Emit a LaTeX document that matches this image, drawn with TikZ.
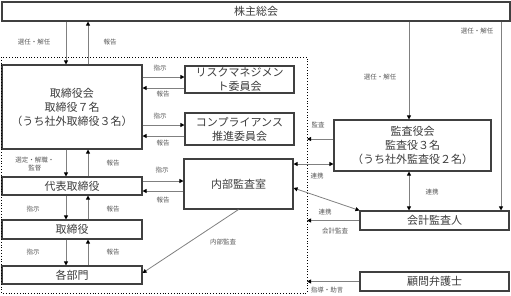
\documentclass[tikz,border=0pt]{standalone}
\usepackage{fontspec}
\setmainfont{Noto Sans CJK JP}
\usepackage{xcolor}
\usepackage{tikz}
\usetikzlibrary{arrows.meta,positioning,calc}
\definecolor{BoxLine}{RGB}{ 64, 64, 64}
\definecolor{BoxText}{RGB}{ 60, 60, 60}
\definecolor{ArrLine}{RGB}{128,128,128}
\definecolor{LblText}{RGB}{ 90, 90, 90}

\begin{document}
\begin{tikzpicture}[x=1pt,y=-1pt,
      box/.style={rectangle,draw=BoxLine,fill=white,line width=1.1pt,
                  inner sep=0pt,align=center,text=BoxText,
                  font=\fontsize{11}{14}\selectfont},
      arr/.style={-{Triangle[length=4pt,width=4pt,black]},line width=0.8pt,ArrLine},
      dbl/.style={{Triangle[length=4pt,width=4pt,black]}-{Triangle[length=4pt,width=4pt,black]},
                  line width=0.8pt,ArrLine},
      lbl/.style={font=\fontsize{6.5}{8}\selectfont,text=LblText,align=center,inner sep=0pt}]
    \useasboundingbox (0,0) rectangle (511,295);
    % boxes
    \node[box,minimum width=508pt,minimum height=19pt](soukai) at (256,11.5){株主総会};
    \node[box,minimum width=140pt,minimum height=84pt](torikai) at (72,107)
         {取締役会\\取締役７名\\（うち社外取締役３名）};
    \node[box,minimum width=109pt,minimum height=27pt](risk) at (239.5,79.5){リスクマネジメン\\ト委員会};
    \node[box,minimum width=109pt,minimum height=32pt](comp) at (239.5,129){コンプライアンス\\推進委員会};
    \node[box,minimum width=140pt,minimum height=18pt](daihyo) at (72,186){代表取締役};
    \node[box,minimum width=140pt,minimum height=19pt](torishimari) at (72,229.5){取締役};
    \node[box,minimum width=140pt,minimum height=18pt](kakubu) at (72,275){各部門};
    \node[box,minimum width=109pt,minimum height=50pt](naibu) at (238.5,184){内部監査室};
    \node[box,minimum width=157pt,minimum height=51pt](kansa) at (412.5,145.5)
         {監査役会\\監査役３名\\（うち社外監査役２名）};
    \node[box,minimum width=149pt,minimum height=19pt](kaikei) at (434.5,220.5){会計監査人};
    \node[box,minimum width=149pt,minimum height=19pt](komon) at (434.5,281.5){顧問弁護士};
    % dotted frame of the company
    \coordinate (frNW) at (1,57);
    \coordinate (frSE) at (307,293);
    \draw[dotted,line width=0.8pt] (frNW) rectangle (frSE);
    % columns
    \coordinate (cDown) at (66,0);
    \coordinate (cUp) at (88,0);
    \coordinate (cKansa) at (409,0);
    \coordinate (cKaikei) at (501,0);
    % connectors
    \draw[arr](soukai.south -| cDown)--(torikai.north -| cDown);
    \draw[arr](torikai.north -| cUp)--(soukai.south -| cUp);
    \draw[arr]($(torikai.east|-risk.west)+(0,-2.5)$)--($(risk.west)+(0,-2.5)$);
    \draw[arr]($(risk.west)+(0,8.5)$)--($(torikai.east|-risk.west)+(0,8.5)$);
    \draw[arr]($(torikai.east|-comp.west)+(0,-4)$)--($(comp.west)+(0,-4)$);
    \draw[arr]($(comp.west)+(0,7)$)--($(torikai.east|-comp.west)+(0,7)$);
    \draw[arr](torikai.south -| cDown)--(daihyo.north -| cDown);
    \draw[arr](daihyo.north -| cUp)--(torikai.south -| cUp);
    \draw[arr]($(daihyo.east)+(0,-5)$)--($(naibu.west|-daihyo.east)+(0,-5)$);
    \draw[arr]($(naibu.west|-daihyo.east)+(0,5)$)--($(daihyo.east)+(0,5)$);
    \draw[arr](daihyo.south -| cDown)--(torishimari.north -| cDown);
    \draw[arr](torishimari.north -| cUp)--(daihyo.south -| cUp);
    \draw[arr](torishimari.south -| cDown)--(kakubu.north -| cDown);
    \draw[arr](kakubu.north -| cUp)--(torishimari.south -| cUp);
    \draw[arr](naibu.south)--($(kakubu.east)+(0,-2)$);
    \draw[arr](soukai.south -| cKansa)--(kansa.north -| cKansa);
    \draw[arr](soukai.south -| cKaikei)--(kaikei.north -| cKaikei);
    \draw[arr]($(kansa.west)+(0,-6.5)$)--($(frSE|-kansa.west)+(0,-6.5)$);
    \draw[dbl]($(naibu.east|-kansa.west)+(0,18.5)$)--($(kansa.west)+(0,18.5)$);
    \draw[dbl]($(naibu.east)+(0,4)$)--(kaikei.north west);
    \draw[dbl](kansa.south -| cKansa)--(kaikei.north -| cKansa);
    \draw[arr](kaikei.west)--(frSE|-kaikei.west);
    \draw[arr](komon.west)--(frSE|-komon.west);
    % labels
    \node[lbl](lSennin1) at (34,42){選任・解任};
    \node[lbl](lHoukoku1) at (110,42){報告};
    \node[lbl](lShiji1) at (160,68){指示};
    \node[lbl](lHoukoku2) at (163,94){報告};
    \node[lbl](lShiji2) at (160,116){指示};
    \node[lbl](lHoukoku3) at (163,143){報告};
    \node[lbl](lSentei) at (35,164.5){選定・解職・\\監督};
    \node[lbl](lHoukoku4) at (113,163){報告};
    \node[lbl](lShiji3) at (162,170){指示};
    \node[lbl](lHoukoku5) at (163,200){報告};
    \node[lbl](lShiji4) at (33,209){指示};
    \node[lbl](lHoukoku6) at (113,209){報告};
    \node[lbl](lShiji5) at (33,252){指示};
    \node[lbl](lHoukoku7) at (113,252){報告};
    \node[lbl](lNaibu) at (223,242){内部監査};
    \node[lbl](lSennin2) at (380,77){選任・解任};
    \node[lbl](lSennin3) at (477,31){選任・解任};
    \node[lbl](lKansa) at (318,125){監査};
    \node[lbl](lRenkei1) at (317,176){連携};
    \node[lbl](lRenkei2) at (325,212){連携};
    \node[lbl](lKaikei) at (335,231){会計監査};
    \node[lbl](lRenkei3) at (432,192){連携};
    \node[lbl](lShidou) at (327,290){指導・助言};
  \end{tikzpicture}
\end{document}
